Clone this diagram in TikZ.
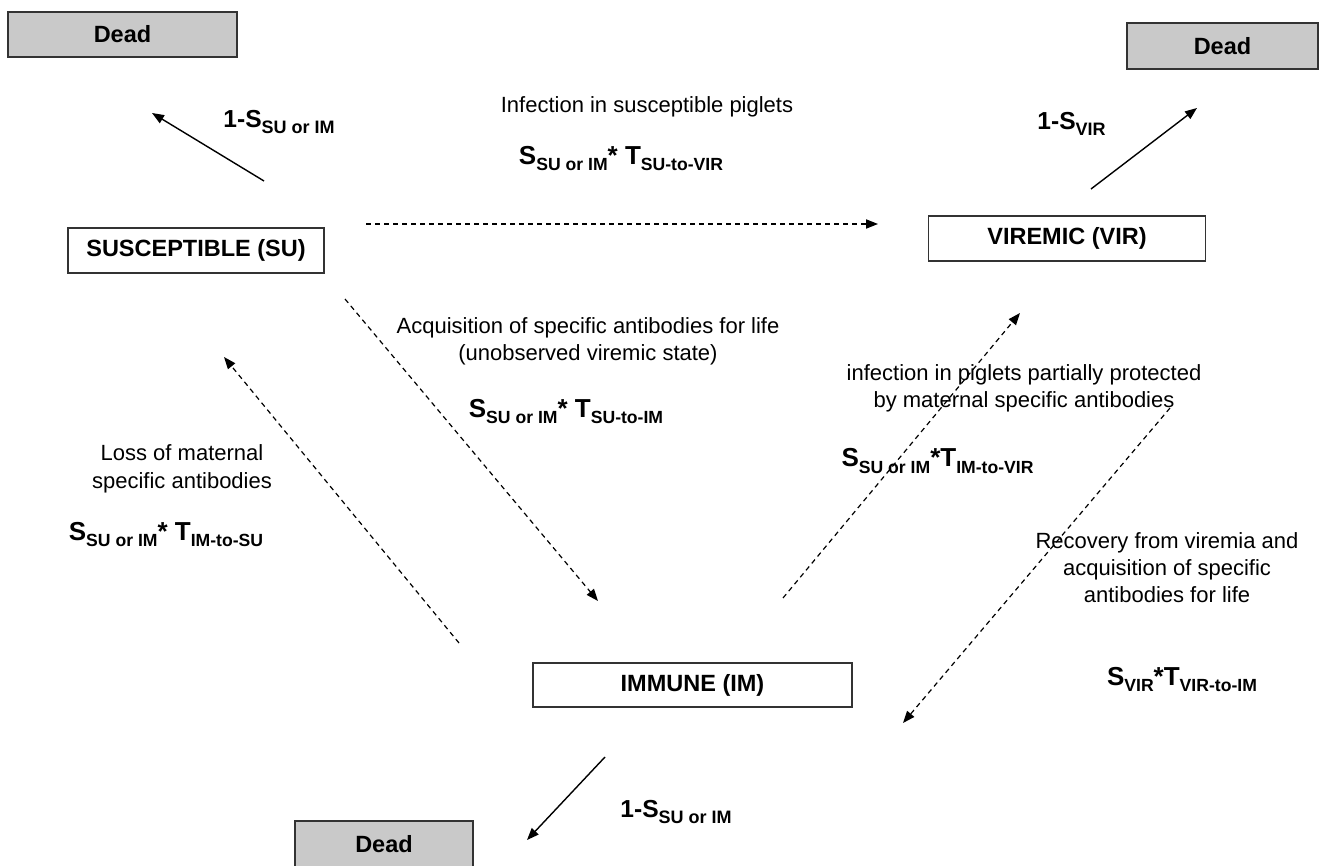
\documentclass[tikz,border=0pt]{standalone}
\usepackage{fontspec}
\setmainfont{Liberation Sans}
\usetikzlibrary{arrows.meta}
\newcommand{\sbs}[1]{\raisebox{-3pt}{\fontsize{8.8}{10}\selectfont #1}}
\newcommand{\sbd}[1]{\raisebox{-3pt}{\fontsize{9}{10}\selectfont #1}}
\begin{document}
\begin{tikzpicture}[x=0.5pt,y=-0.5pt,
  state/.style={draw=black!80, line width=0.75pt, fill=white, inner sep=0pt, font=\fontsize{11.75}{14}\selectfont\bfseries},
  dead/.style={state, fill=black!21},
  lbl/.style={inner sep=0pt, font=\fontsize{11}{13.5}\selectfont, align=center},
  frm/.style={inner sep=0pt, font=\fontsize{13}{15}\selectfont\bfseries},
  dfrm/.style={inner sep=0pt, font=\fontsize{12.3}{15}\selectfont\bfseries},
  solidarr/.style={line width=0.7pt, -{Triangle[length=6pt,width=4.6pt]}},
  dasharr/.style={line width=0.6pt, dash pattern=on 2.5pt off 2pt, -{Triangle[length=6pt,width=4.6pt]}},
]
\useasboundingbox (0,0) rectangle (1319,866);

% boxes
\node[dead, minimum width=114.5pt, minimum height=22.5pt] (deadTL) at (122.5,34.5) {Dead};
\node[dead, minimum width=95.5pt, minimum height=23pt] (deadTR) at (1222.5,46) {Dead};
\node[dead, minimum width=89pt, minimum height=23.5pt] (deadB) at (384,844.5) {Dead};
\node[state, minimum width=128pt, minimum height=22.5pt] (su) at (196,250.5) {SUSCEPTIBLE (SU)};
\node[state, minimum width=138.5pt, minimum height=22.5pt] (vir) at (1067,238.5) {VIREMIC (VIR)};
\node[state, minimum width=159.5pt, minimum height=22pt] (im) at (692.5,685) {IMMUNE (IM)};

% arrow end points
\coordinate (suD1) at (264,181);  \coordinate (deadTLe) at (152,113);
\coordinate (virD1) at (1091,189); \coordinate (deadTRe) at (1197,108);
\coordinate (imD1) at (605,757);  \coordinate (deadBe) at (527,840);
\coordinate (suV) at (366,224);   \coordinate (virS) at (878,224);
\coordinate (suI) at (345,299);   \coordinate (imS) at (598,601);
\coordinate (imU) at (459,643);   \coordinate (suU) at (224,357);
\coordinate (imV) at (783,598);   \coordinate (virI) at (1020,313);
\coordinate (virR) at (1170,408); \coordinate (imR) at (903,723);

% solid arrows to dead
\draw[solidarr] (suD1) -- (deadTLe);
\draw[solidarr] (virD1) -- (deadTRe);
\draw[solidarr] (imD1) -- (deadBe);

% dashed transitions
\draw[dasharr] (suV) -- (virS);
\draw[dasharr] (suI) -- (imS);
\draw[dasharr] (imU) -- (suU);
\draw[dasharr] (imV) -- (virI);
\draw[dasharr] (virR) -- (imR);

% labels
\node[dfrm, anchor=base west] (d1) at (223,128) {1-S\sbd{SU or IM}};
\node[dfrm, anchor=base west] (d2) at (1037,130) {1-S\sbd{VIR}};
\node[dfrm, anchor=base west] (d3) at (620,817) {1-S\sbd{SU or IM}};

\node[lbl, anchor=base] (t1) at (647,113) {Infection in susceptible piglets};
\node[frm, anchor=base] (f1) at (621,165) {S\sbs{SU or IM}* T\sbs{SU-to-VIR}};

\node[lbl, anchor=base] (t2) at (588,361) {Acquisition of specific antibodies for life\\(unobserved viremic state)};
\node[frm, anchor=base] (f2) at (566,418) {S\sbs{SU or IM}* T\sbs{SU-to-IM}};

\node[lbl, anchor=base] (t3) at (182,488) {Loss of maternal\\specific antibodies};
\node[frm, anchor=base] (f3) at (166,540) {S\sbs{SU or IM}* T\sbs{IM-to-SU}};

\node[lbl, anchor=base] (t4) at (1024,408) {infection in piglets partially protected\\by maternal specific antibodies};
\node[frm, anchor=base] (f4) at (937.5,467) {S\sbs{SU or IM}*T\sbs{IM-to-VIR}};

\node[lbl, anchor=base] (t5) at (1167,603) {Recovery from viremia and\\acquisition of specific\\antibodies for life};
\node[frm, anchor=base] (f5) at (1182,685) {S\sbs{VIR}*T\sbs{VIR-to-IM}};
\end{tikzpicture}
\end{document}
